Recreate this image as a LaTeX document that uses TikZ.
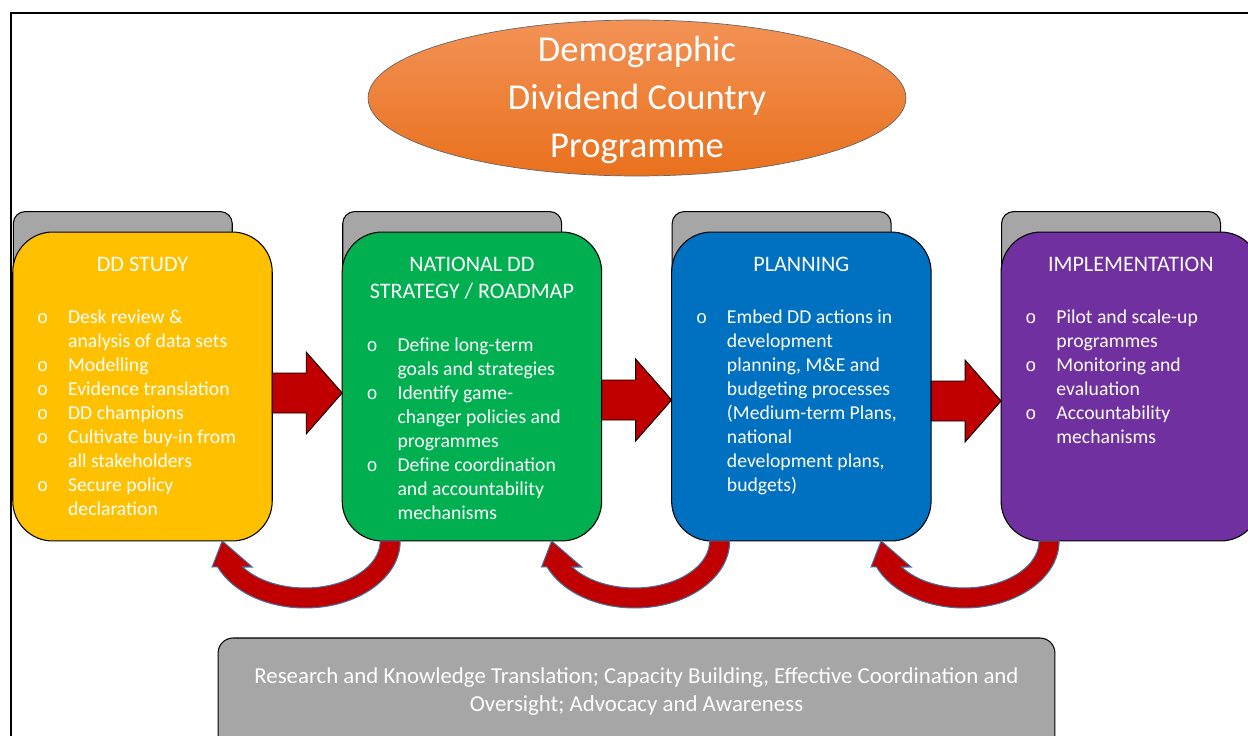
\documentclass[tikz,border=0pt]{standalone}
\usepackage{fontspec}
\setmainfont{Carlito}
\newfontfamily\bulfont{Liberation Mono}
\usetikzlibrary{positioning,calc,shapes.geometric,backgrounds}

\definecolor{ddyellow}{HTML}{FFC000}
\definecolor{ddgreen}{HTML}{00B050}
\definecolor{ddblue}{HTML}{0070C0}
\definecolor{ddpurple}{HTML}{7030A0}
\definecolor{ddred}{HTML}{C00000}
\definecolor{ddgray}{HTML}{A6A6A6}
\definecolor{ddorangetop}{HTML}{F39256}
\definecolor{ddorangebot}{HTML}{E9711D}
\definecolor{ddedge}{HTML}{41719C}

\newcommand{\bul}{\makebox[0.62cm][l]{\bulfont\fontsize{10.5}{10.5}\selectfont o}}
\newcommand{\ind}{\hspace*{0.62cm}}

\tikzset{
  stage/.style={draw=black, line width=0.6pt, rounded corners=0.8cm, minimum width=5.19cm, minimum height=6.18cm, inner sep=0pt, outer sep=0pt},
  tab/.style={draw=black, fill=ddgray, line width=0.6pt, rounded corners=0.24cm, minimum width=4.38cm, minimum height=1.6cm, anchor=north west, inner sep=0pt},
  stagetitle/.style={anchor=north, align=center, inner sep=0pt, text=white, font=\fontsize{12.6}{15.3}\selectfont},
  items/.style={anchor=north west, align=left, inner sep=0pt, text=white, font=\fontsize{11.2}{13.7}\selectfont},
  blockarrow/.style={draw=black, fill=ddred, line width=0.5pt, line join=miter},
  backarrow/.style={draw=ddedge, fill=ddred, line width=0.6pt},
}

\begin{document}
\begin{tikzpicture}[x=0.02cm, y=0.02cm]
  \useasboundingbox (0,0) rectangle (1248,735);
  \clip (0,0) rectangle (1248,735);
  % frame
  \draw[line width=1.2pt] (11,-50) rectangle (1300,722);

  % programme title
  \node[ellipse, draw=black!60, line width=0.4pt, top color=ddorangetop, bottom color=ddorangebot,
        minimum width=10.76cm, minimum height=3.12cm, inner sep=0pt] (prog) at (637,637) {};
  \node[anchor=north, align=center, inner sep=0pt, text=white, font=\fontsize{20.8}{27.5}\selectfont]
        (progtext) at ($(prog.north)+(0,-7.4)$) {\strut Demographic\\Dividend Country\\Programme};

  % stages
  \node[stage, fill=ddyellow] (s1) at (142.5,348.5) {};
  \node[stage, fill=ddgreen, right=1.4cm of s1] (s2) {};
  \node[stage, fill=ddblue, right=1.4cm of s2] (s3) {};
  \node[stage, fill=ddpurple, right=1.4cm of s3] (s4) {};
  \begin{scope}[on background layer]
    \foreach \s in {s1,s2,s3,s4}
      \node[tab] (tab-\s) at ($(\s.north west)+(0,21)$) {};
  \end{scope}

  \node[stagetitle] (t1) at ($(s1.north)+(0,-20)$) {\strut DD STUDY};
  \node[stagetitle] (t2) at ($(s2.north)+(0,-20)$) {\strut NATIONAL DD\\STRATEGY / ROADMAP};
  \node[stagetitle] (t3) at ($(s3.north)+(0,-20)$) {\strut PLANNING};
  \node[stagetitle] (t4) at ($(s4.north)+(0,-20)$) {\strut IMPLEMENTATION};

  \node[items] (l1) at ($(s1.north west)+(24,-74.2)$) {\strut\bul Desk review \&\\
    \ind analysis of data sets\\ \bul Modelling\\ \bul Evidence translation\\
    \bul DD champions\\ \bul Cultivate buy-in from\\ \ind all stakeholders\\
    \bul Secure policy\\ \ind declaration};
  \node[items] (l2) at ($(s2.north west)+(24,-101.9)$) {\strut\bul Define long-term\\
    \ind goals and strategies\\ \bul Identify game-\\ \ind changer policies and\\
    \ind programmes\\ \bul Define coordination\\ \ind and accountability\\
    \ind mechanisms};
  \node[items] (l3) at ($(s3.north west)+(24,-74.2)$) {\strut\bul Embed DD actions in\\
    \ind development\\ \ind planning, M\&E and\\ \ind budgeting processes\\
    \ind (Medium-term Plans,\\ \ind national\\ \ind development plans,\\
    \ind budgets)};
  \node[items] (l4) at ($(s4.north west)+(24,-74.2)$) {\strut\bul Pilot and scale-up\\
    \ind programmes\\ \bul Monitoring and\\ \ind evaluation\\
    \bul Accountability\\ \ind mechanisms};

  % forward arrows
  \foreach \sa/\sb/\off in {s1/s2/-6.5, s2/s3/-13.5, s3/s4/-14.5}{
    \coordinate (from) at ($(\sa.east)+(0,\off)$);
    \coordinate (into) at (\sb.west |- from);
    \draw[blockarrow] ($(from)+(0,20)$) -- ($(into)+(-36,20)$) -- ($(into)+(-36,41)$) -- (into)
      -- ($(into)+(-36,-41)$) -- ($(into)+(-36,-20)$) -- ($(from)+(0,-20)$) -- cycle;
  }

  % feedback arrows
  \foreach \sa/\sb in {s1/s2, s2/s3, s3/s4}{
    \coordinate (tail) at ($(\sb.south west)+(58,0)$);
    \coordinate (tip) at ($(\sa.south east)+(-50,0)$);
    \draw[backarrow] (tail) arc[start angle=0, end angle=-157.2, x radius=95, y radius=67]
      -- ($(tip)+(-10,-26)$) -- (tip) -- ($(tip)+(30,-26)$)
      -- ($(tail)+(-157.5,-26)$) arc[start angle=-146.4, end angle=0, x radius=75, y radius=47] -- cycle;
  }

  % cross-cutting support
  \node[draw=black, line width=0.6pt, fill=ddgray, rounded corners=0.3cm, minimum width=16.74cm,
        minimum height=2.64cm, inner sep=0pt] (support) at (636.5,31) {};
  \node[anchor=north, align=center, inner sep=0pt, text=white, font=\fontsize{13}{15.9}\selectfont]
        (supporttext) at ($(support.north)+(0,-26.4)$) {\strut Research and Knowledge Translation; Capacity Building, Effective Coordination and\\
        Oversight; Advocacy and Awareness};
\end{tikzpicture}
\end{document}
